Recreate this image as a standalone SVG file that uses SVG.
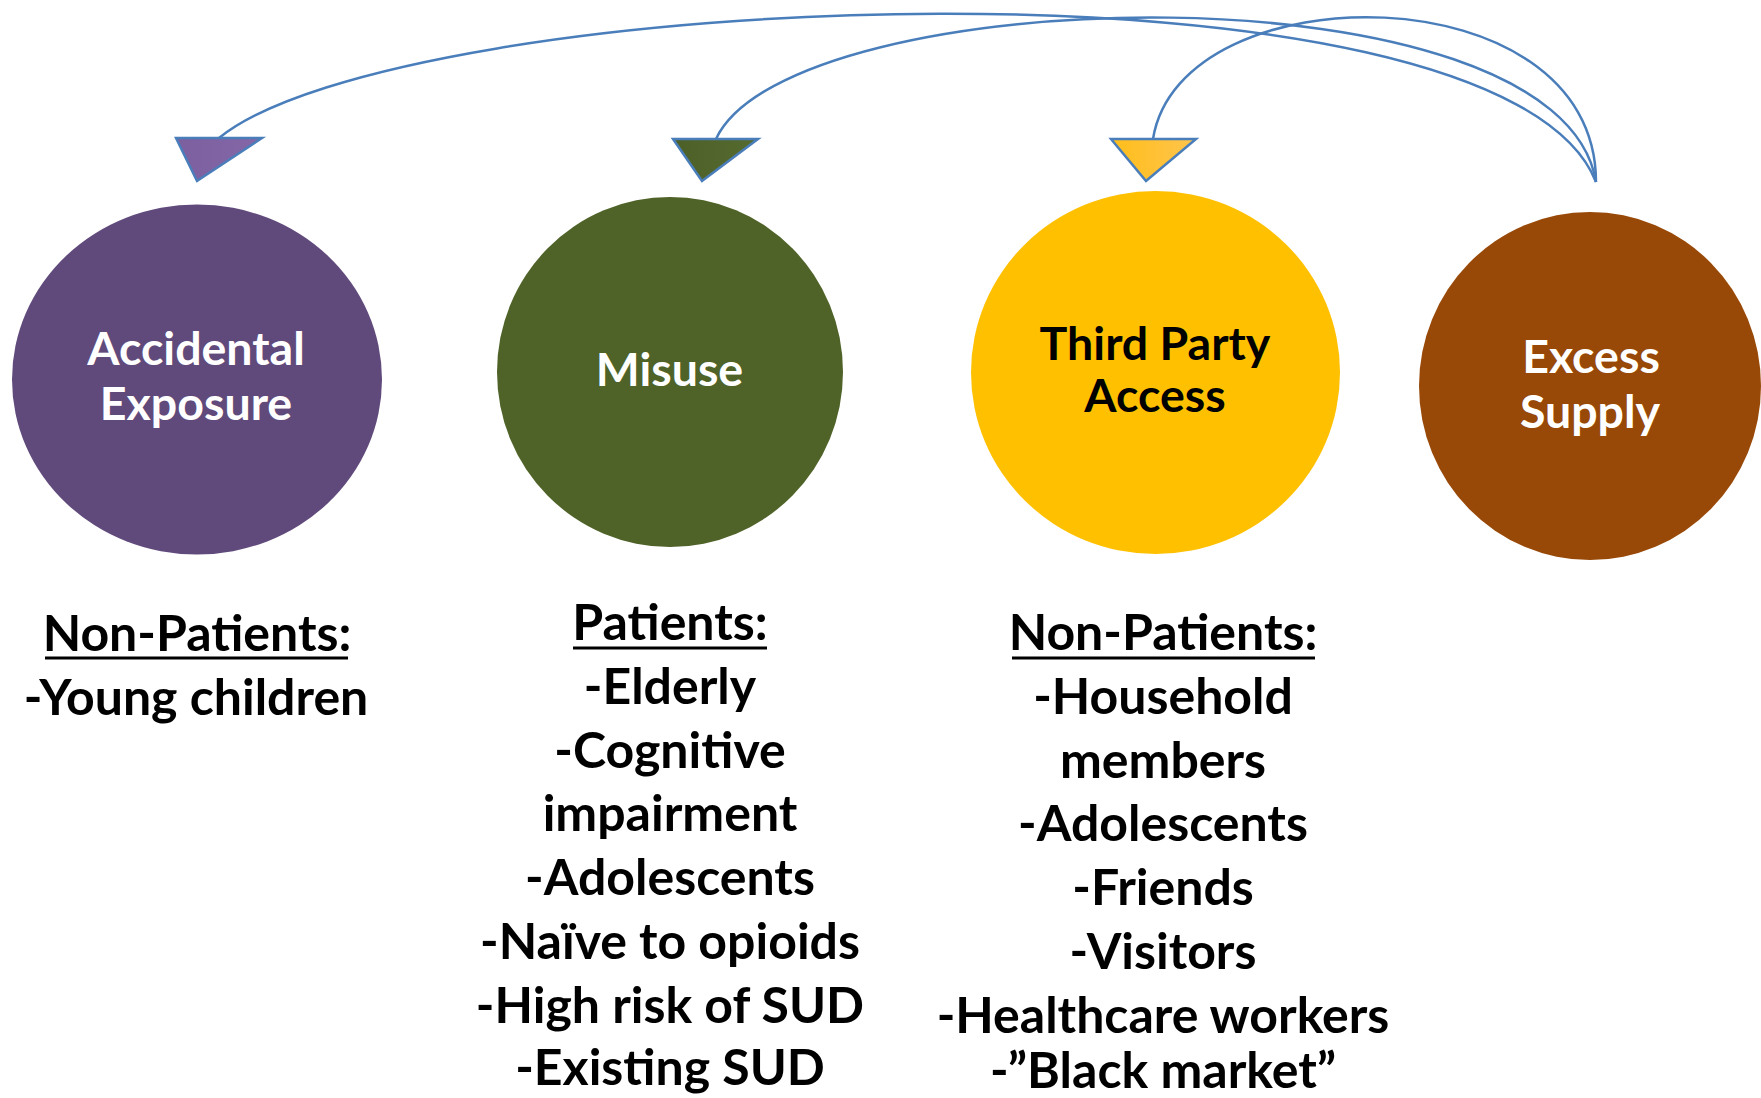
<svg xmlns="http://www.w3.org/2000/svg" width="1761" height="1098" viewBox="0 0 1761 1098">
<defs>
<style>
.ctext{font-family:Lato,"Open Sans","Liberation Sans",sans-serif;font-weight:700;font-size:46.5px;text-anchor:middle}
.btext{font-family:Lato,"Open Sans","Liberation Sans",sans-serif;font-weight:700;font-size:50px;text-anchor:middle;fill:#000}
.wt{fill:#FFFFFF}
.bk{fill:#000000}
.curve{fill:none;stroke:#4A7EBB;stroke-width:2.5}
.head{stroke:#4A7EBB;stroke-width:2.5;stroke-linejoin:miter}
.ul{stroke:#000;stroke-width:3}
</style>
<linearGradient id="gP" x1="0" y1="0" x2="1" y2="0"><stop offset="0" stop-color="#7B5F9E"/><stop offset="1" stop-color="#8567A8"/></linearGradient>
<linearGradient id="gG" x1="0" y1="0" x2="1" y2="0"><stop offset="0" stop-color="#4C5F27"/><stop offset="1" stop-color="#566B30"/></linearGradient>
<linearGradient id="gY" x1="0" y1="0" x2="1" y2="0"><stop offset="0" stop-color="#FFBE1A"/><stop offset="1" stop-color="#FFC44D"/></linearGradient>
</defs>
<rect width="1761" height="1098" fill="#FFFFFF"/>

<g id="connectors">
<path class="curve" d="M219,138 C400,-10 1500,-60 1596,182"/>
<path class="curve" d="M716,139 C790,-20 1560,-40 1596,182"/>
<path class="curve" d="M1153,139 C1180,-30 1596,-30 1596,182"/>
<polygon class="head" fill="url(#gP)" points="176,138 262,138 197,181"/>
<polygon class="head" fill="url(#gG)" points="673,139 758,139 702,181"/>
<polygon class="head" fill="url(#gY)" points="1111,139 1196,139 1146,181"/>
</g>

<g id="accidental-exposure">
<ellipse cx="197" cy="379.5" rx="185" ry="175" fill="#604A7B"/>
<text class="ctext wt" x="196" y="365">Accidental</text>
<text class="ctext wt" x="196" y="420">Exposure</text>
</g>

<g id="misuse">
<ellipse cx="670" cy="372" rx="173" ry="175" fill="#4F6228"/>
<text class="ctext wt" x="669.5" y="386">Misuse</text>
</g>

<g id="third-party-access">
<ellipse cx="1155.5" cy="372.5" rx="184.5" ry="181.5" fill="#FFC000"/>
<text class="ctext bk" x="1155" y="360">Third Party</text>
<text class="ctext bk" x="1155" y="412">Access</text>
</g>

<g id="excess-supply">
<ellipse cx="1590" cy="386" rx="171" ry="174" fill="#984807"/>
<text class="ctext wt" x="1591" y="373">Excess</text>
<text class="ctext wt" x="1590" y="428">Supply</text>
</g>

<g id="list-accidental">
<text class="btext" x="197" y="651">Non-Patients:</text>
<line class="ul" x1="45" y1="658" x2="348" y2="658"/>
<text class="btext" x="196" y="715">-Young children</text>
</g>

<g id="list-misuse">
<text class="btext" x="670" y="640">Patients:</text>
<line class="ul" x1="573" y1="648" x2="767" y2="648"/>
<text class="btext" x="670" y="703.8">-Elderly</text>
<text class="btext" x="670" y="767.6">-Cognitive</text>
<text class="btext" x="670" y="831.4">impairment</text>
<text class="btext" x="670" y="895.2">-Adolescents</text>
<text class="btext" x="670" y="959">-Naïve to opioids</text>
<text class="btext" x="670" y="1022.8">-High risk of SUD</text>
<text class="btext" x="670" y="1085">-Existing SUD</text>
</g>

<g id="list-third-party">
<text class="btext" x="1163" y="650">Non-Patients:</text>
<line class="ul" x1="1012" y1="658" x2="1315" y2="658"/>
<text class="btext" x="1163" y="714">-Household</text>
<text class="btext" x="1163" y="777.6">members</text>
<text class="btext" x="1163" y="841.4">-Adolescents</text>
<text class="btext" x="1163" y="905.2">-Friends</text>
<text class="btext" x="1163" y="969">-Visitors</text>
<text class="btext" x="1163" y="1032.8">-Healthcare workers</text>
<text class="btext" x="1163" y="1088">-”Black market”</text>
</g>
</svg>
